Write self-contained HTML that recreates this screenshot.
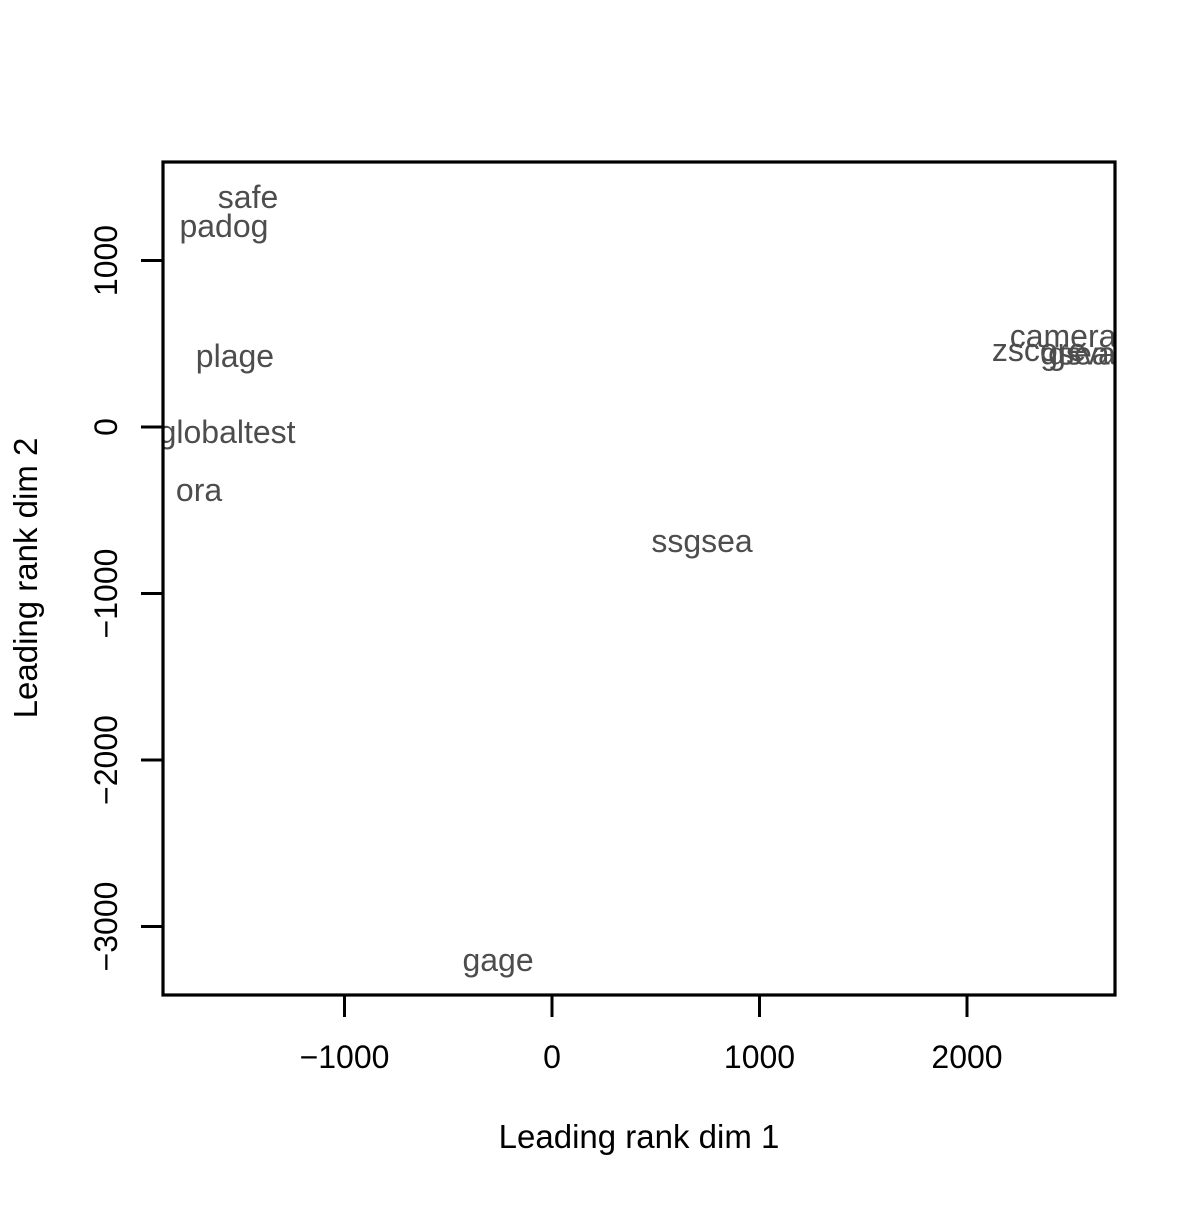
<!DOCTYPE html>
<html><head><meta charset="utf-8"><style>
body{margin:0;background:#fff}
svg text{font-family:"Liberation Sans",Arial,sans-serif}
</style></head><body>
<svg id="chart" width="1200" height="1200" xmlns="http://www.w3.org/2000/svg">
<defs><clipPath id="clip"><rect x="163" y="162" width="952" height="833"/></clipPath></defs>
<g id="axes"></g>
<g id="pts" clip-path="url(#clip)"></g>
<rect x="163" y="162" width="952" height="833" fill="none" stroke="#000" stroke-width="3.2"/>
<text x="639" y="1148" font-size="33" text-anchor="middle">Leading rank dim 1</text>
<text transform="translate(37,578) rotate(-90)" font-size="33" text-anchor="middle">Leading rank dim 2</text>
</svg>
<script>
const labels=["safe","padog","plage","globaltest","ora","ssgsea","gage","camera","zscore","gsea","gsva"];
const dim1=[-1465,-1581,-1528,-1566,-1701,723,-260,2463,2347,2520,2554];
const dim2=[1381,1207,426,-30,-378,-685,-3201,547,462,440,440];
const xTicks=[-1000,0,1000,2000];
const yTicks=[1000,0,-1000,-2000,-3000];
const xTickLabels=["\u22121000","0","1000","2000"];
const yTickLabels=["1000","0","\u22121000","\u22122000","\u22123000"];
const sx=v=>552+v*0.2075;
const sy=v=>427-v*0.1665;
const NS="http://www.w3.org/2000/svg";
const ax=document.getElementById('axes'),pts=document.getElementById('pts');
function mk(tag,attrs,parent){const e=document.createElementNS(NS,tag);for(const k in attrs)e.setAttribute(k,attrs[k]);parent.appendChild(e);return e;}
xTicks.forEach((t,i)=>{
  const l=mk('line',{x1:sx(t),x2:sx(t),y1:995,y2:1017,stroke:'#000','stroke-width':3},ax);
  
  
  const tx=mk('text',{x:sx(t),y:1068,'font-size':32,'text-anchor':'middle'},ax);
  tx.textContent=xTickLabels[i];
  
  
});
yTicks.forEach((t,i)=>{
  const l=mk('line',{x1:141,x2:163,y1:sy(t),y2:sy(t),stroke:'#000','stroke-width':3},ax);
  
  
  const tx=mk('text',{'font-size':32,'text-anchor':'middle',transform:`translate(117,${sy(t)}) rotate(-90)`},ax);
  tx.textContent=yTickLabels[i];
  
  
});
labels.forEach((n,i)=>{
  const tx=mk('text',{x:sx(dim1[i]),y:sy(dim2[i])+11,'font-size':32,'text-anchor':'middle',fill:'#4d4d4d'},pts);
  tx.textContent=n;
  
  
});
</script>
</body></html>
